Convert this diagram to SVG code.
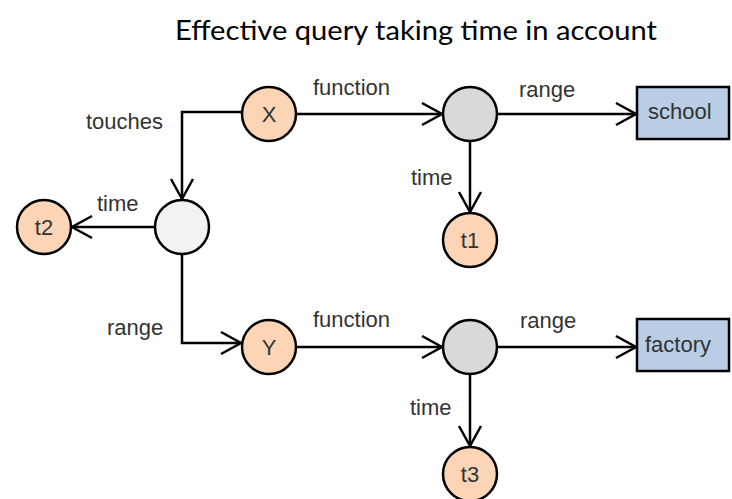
<svg xmlns="http://www.w3.org/2000/svg" width="732" height="499" viewBox="0 0 732 499">
<defs>
<marker id="arr" markerUnits="userSpaceOnUse" markerWidth="30" markerHeight="30" viewBox="-25 -15 30 30" refX="0" refY="0" orient="auto">
<path d="M-20,-11 L0,0 L-20,11" fill="none" stroke="#000" stroke-width="2.5"/>
</marker>
</defs>
<style>
.c{stroke:#000;stroke-width:2.5}
.p{fill:#FBD5B5}
.g{fill:#D9D9D9}
.l{fill:#F2F2F2}
.b{fill:#B9CDE5;stroke:#000;stroke-width:2.5}
.t{font-family:"Liberation Sans",Arial,sans-serif;font-size:22px;fill:#333}
.m{text-anchor:middle}
.e{fill:none;stroke:#000;stroke-width:2.5;marker-end:url(#arr)}
.ti{font-family:Lato,"Open Sans",sans-serif;font-size:27px;fill:#000}
</style>
<rect width="732" height="499" fill="#fff"/>
<text class="ti" x="416" y="40" text-anchor="middle" textLength="482" lengthAdjust="spacingAndGlyphs">Effective query taking time in account</text>
<g id="connectors">
<path class="e" d="M242,112 H182 V199"/>
<path class="e" d="M296,114 H442"/>
<path class="e" d="M497,114 H636"/>
<path class="e" d="M470,141 V212"/>
<path class="e" d="M155,227 H72"/>
<path class="e" d="M182,254 V343 H241"/>
<path class="e" d="M296,347 H442"/>
<path class="e" d="M497,347 H636"/>
<path class="e" d="M470,374 V446"/>
<text class="t" x="86" y="129">touches</text>
<text class="t" x="313" y="95">function</text>
<text class="t" x="519" y="97">range</text>
<text class="t" x="411" y="185">time</text>
<text class="t" x="97" y="211">time</text>
<text class="t" x="107" y="335">range</text>
<text class="t" x="313" y="327">function</text>
<text class="t" x="520" y="328">range</text>
<text class="t" x="410" y="415">time</text>
</g>
<g id="X"><circle class="c p" cx="269" cy="114" r="27"/><text class="t m" x="269" y="122">X</text></g>
<g id="n1"><circle class="c g" cx="470" cy="114" r="27"/></g>
<g id="school"><rect class="b" x="637" y="87" width="92" height="52"/><text class="t" x="648" y="119">school</text></g>
<g id="t1"><circle class="c p" cx="470" cy="240" r="27"/><text class="t m" x="470" y="248">t1</text></g>
<g id="n0"><circle class="c l" cx="182" cy="227" r="27"/></g>
<g id="t2"><circle class="c p" cx="44" cy="227" r="27"/><text class="t m" x="44" y="235">t2</text></g>
<g id="Y"><circle class="c p" cx="269" cy="347" r="27"/><text class="t m" x="269" y="355">Y</text></g>
<g id="n2"><circle class="c g" cx="470" cy="347" r="27"/></g>
<g id="factory"><rect class="b" x="637" y="319" width="92" height="52"/><text class="t" x="645" y="352">factory</text></g>
<g id="t3"><circle class="c p" cx="470" cy="474" r="27"/><text class="t m" x="470" y="482">t3</text></g>
</svg>
